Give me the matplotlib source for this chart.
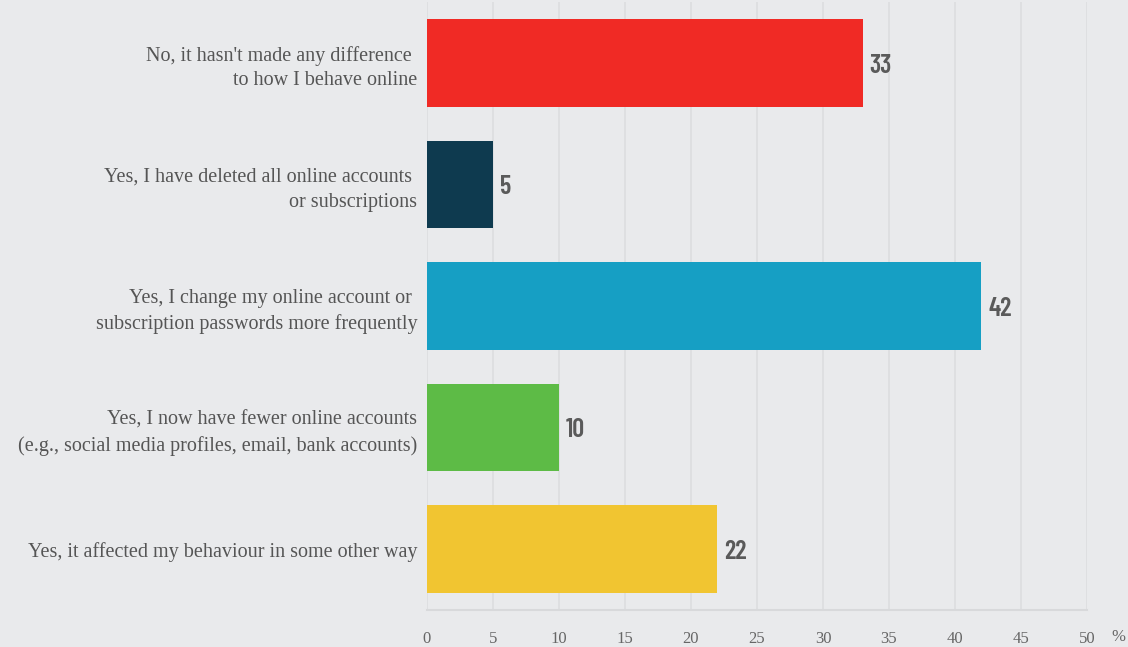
import matplotlib.pyplot as plt

categories = [
    "No, it hasn't made any difference \nto how I behave online",
    "Yes, I have deleted all online accounts \nor subscriptions",
    "Yes, I change my online account or \nsubscription passwords more frequently",
    "Yes, I now have fewer online accounts\n(e.g., social media profiles, email, bank accounts)",
    "Yes, it affected my behaviour in some other way",
]
values = [33, 5, 42, 10, 22]
colors = ["#f02a25", "#0e3a4f", "#169fc4", "#5dbb46", "#f1c531"]
xticks = [0, 5, 10, 15, 20, 25, 30, 35, 40, 45, 50]

serif = "Liberation Serif"
bg = "#e9eaec"
fig = plt.figure(figsize=(11.28, 6.47), dpi=100, facecolor=bg)
ax = fig.add_axes([0.3785, 0.0572, 0.5851, 0.9397], facecolor=bg)

ypos = list(range(len(categories)))
ax.barh(ypos, values, height=0.72, color=colors, zorder=3)

# value labels next to each bar
for y, v in zip(ypos, values):
    ax.annotate(str(v), (v, y), xytext=(5, -2), textcoords="offset points",
                ha="left", va="center", fontsize=19, fontweight=600,
                color="#5a5a5a", family=["Barlow Condensed", "DejaVu Sans"])

ax.set_xlim(0, 50)
ax.set_ylim(len(categories) - 0.5, -0.5)
ax.set_xticks(xticks)
ax.set_yticks(ypos)
ax.set_yticklabels(categories, family=serif, fontsize=14.5,
                   color="#555555", linespacing=1.4)
ax.set_xticklabels([str(t) for t in xticks], family=serif,
                   fontsize=12, color="#666666")
ax.tick_params(axis="both", length=0)
ax.tick_params(axis="y", pad=7)
ax.tick_params(axis="x", pad=15)

ax.grid(axis="x", color="#dcdddf", linewidth=1.2, zorder=0)
for s in ["top", "right", "left"]:
    ax.spines[s].set_visible(False)
ax.spines["bottom"].set_color("#d8d9db")
ax.spines["bottom"].set_linewidth(1.5)

fig.text(1118 / 1128, 1 - 637 / 647, "%", family=serif,
         fontsize=12, color="#666666", ha="center", va="center")

plt.savefig("out.png", dpi=100, facecolor=bg)
plt.close()
